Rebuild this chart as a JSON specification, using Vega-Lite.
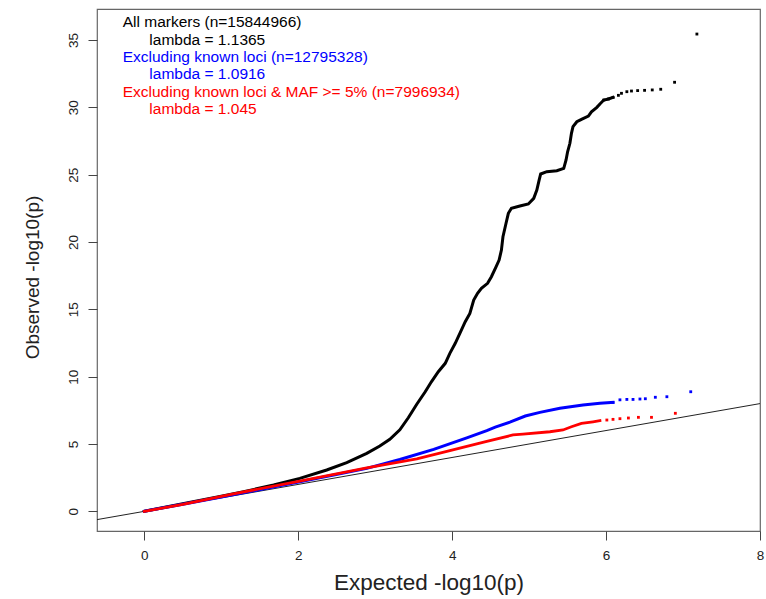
{
  "$schema": "https://vega.github.io/schema/vega-lite/v6.json",
  "width": 663,
  "height": 522,
  "autosize": "none",
  "padding": {"left": 97, "top": 9, "right": 6, "bottom": 68},
  "background": "white",
  "config": {
    "font": "Liberation Sans",
    "view": {"stroke": "#666666", "strokeWidth": 1.2},
    "axis": {"grid": false, "domain": false, "tickColor": "#444444", "tickWidth": 1, "tickSize": 9, "labelColor": "#222222", "titleColor": "#222222", "labelFontSize": 13.5, "titleFontWeight": "normal", "labelFlush": false, "labelOverlap": false}
  },
  "datasets": {
    "qq": [
      {"series": "all", "x": 0, "y": 0},
      {"series": "all", "x": 0.5, "y": 0.56},
      {"series": "all", "x": 1.0, "y": 1.13},
      {"series": "all", "x": 1.29, "y": 1.46},
      {"series": "all", "x": 1.68, "y": 1.95},
      {"series": "all", "x": 2.02, "y": 2.45},
      {"series": "all", "x": 2.37, "y": 3.07},
      {"series": "all", "x": 2.63, "y": 3.62},
      {"series": "all", "x": 2.89, "y": 4.30},
      {"series": "all", "x": 3.06, "y": 4.85},
      {"series": "all", "x": 3.19, "y": 5.35},
      {"series": "all", "x": 3.32, "y": 6.05},
      {"series": "all", "x": 3.43, "y": 6.95},
      {"series": "all", "x": 3.54, "y": 7.95},
      {"series": "all", "x": 3.65, "y": 8.88},
      {"series": "all", "x": 3.73, "y": 9.62},
      {"series": "all", "x": 3.82, "y": 10.37},
      {"series": "all", "x": 3.91, "y": 10.99},
      {"series": "all", "x": 3.97, "y": 11.73},
      {"series": "all", "x": 4.04, "y": 12.48},
      {"series": "all", "x": 4.10, "y": 13.22},
      {"series": "all", "x": 4.17, "y": 14.08},
      {"series": "all", "x": 4.23, "y": 14.70},
      {"series": "all", "x": 4.28, "y": 15.69},
      {"series": "all", "x": 4.33, "y": 16.19},
      {"series": "all", "x": 4.38, "y": 16.56},
      {"series": "all", "x": 4.46, "y": 16.93},
      {"series": "all", "x": 4.51, "y": 17.42},
      {"series": "all", "x": 4.57, "y": 18.16},
      {"series": "all", "x": 4.61, "y": 18.66},
      {"series": "all", "x": 4.64, "y": 19.40},
      {"series": "all", "x": 4.66, "y": 20.39},
      {"series": "all", "x": 4.70, "y": 21.39},
      {"series": "all", "x": 4.73, "y": 22.13},
      {"series": "all", "x": 4.77, "y": 22.50},
      {"series": "all", "x": 4.88, "y": 22.67},
      {"series": "all", "x": 4.99, "y": 22.82},
      {"series": "all", "x": 5.06, "y": 23.24},
      {"series": "all", "x": 5.10, "y": 23.86},
      {"series": "all", "x": 5.13, "y": 24.60},
      {"series": "all", "x": 5.15, "y": 25.05},
      {"series": "all", "x": 5.23, "y": 25.22},
      {"series": "all", "x": 5.36, "y": 25.29},
      {"series": "all", "x": 5.45, "y": 25.47},
      {"series": "all", "x": 5.48, "y": 26.09},
      {"series": "all", "x": 5.50, "y": 26.70},
      {"series": "all", "x": 5.53, "y": 27.33},
      {"series": "all", "x": 5.55, "y": 28.07},
      {"series": "all", "x": 5.57, "y": 28.56},
      {"series": "all", "x": 5.62, "y": 28.93},
      {"series": "all", "x": 5.68, "y": 29.11},
      {"series": "all", "x": 5.77, "y": 29.35},
      {"series": "all", "x": 5.81, "y": 29.67},
      {"series": "all", "x": 5.88, "y": 30.00},
      {"series": "all", "x": 5.92, "y": 30.25},
      {"series": "all", "x": 5.97, "y": 30.54},
      {"series": "all", "x": 6.03, "y": 30.62},
      {"series": "all", "x": 6.09, "y": 30.74},
      {"series": "all", "x": 6.16, "y": 30.89},
      {"series": "all", "x": 6.20, "y": 31.04},
      {"series": "all", "x": 6.27, "y": 31.16},
      {"series": "all", "x": 6.33, "y": 31.21},
      {"series": "all", "x": 6.41, "y": 31.24},
      {"series": "all", "x": 6.50, "y": 31.26},
      {"series": "all", "x": 6.60, "y": 31.29},
      {"series": "all", "x": 6.71, "y": 31.34},
      {"series": "all", "x": 6.89, "y": 31.86},
      {"series": "all", "x": 7.18, "y": 35.44},
      {"series": "excl", "x": 0, "y": 0},
      {"series": "excl", "x": 0.5, "y": 0.53},
      {"series": "excl", "x": 1.0, "y": 1.07},
      {"series": "excl", "x": 1.59, "y": 1.71},
      {"series": "excl", "x": 2.02, "y": 2.20},
      {"series": "excl", "x": 2.46, "y": 2.70},
      {"series": "excl", "x": 2.89, "y": 3.19},
      {"series": "excl", "x": 3.32, "y": 3.85},
      {"series": "excl", "x": 3.76, "y": 4.60},
      {"series": "excl", "x": 4.19, "y": 5.45},
      {"series": "excl", "x": 4.45, "y": 6.00},
      {"series": "excl", "x": 4.56, "y": 6.25},
      {"series": "excl", "x": 4.75, "y": 6.62},
      {"series": "excl", "x": 4.95, "y": 7.08},
      {"series": "excl", "x": 5.14, "y": 7.35},
      {"series": "excl", "x": 5.40, "y": 7.65},
      {"series": "excl", "x": 5.70, "y": 7.89},
      {"series": "excl", "x": 5.92, "y": 8.02},
      {"series": "excl", "x": 6.09, "y": 8.09},
      {"series": "excl", "x": 6.18, "y": 8.28},
      {"series": "excl", "x": 6.27, "y": 8.31},
      {"series": "excl", "x": 6.35, "y": 8.31},
      {"series": "excl", "x": 6.44, "y": 8.34},
      {"series": "excl", "x": 6.51, "y": 8.36},
      {"series": "excl", "x": 6.64, "y": 8.47},
      {"series": "excl", "x": 6.79, "y": 8.51},
      {"series": "excl", "x": 7.10, "y": 8.88},
      {"series": "maf", "x": 0, "y": 0},
      {"series": "maf", "x": 0.5, "y": 0.52},
      {"series": "maf", "x": 1.16, "y": 1.30},
      {"series": "maf", "x": 2.02, "y": 2.25},
      {"series": "maf", "x": 2.89, "y": 3.22},
      {"series": "maf", "x": 3.54, "y": 3.90},
      {"series": "maf", "x": 3.97, "y": 4.50},
      {"series": "maf", "x": 4.45, "y": 5.20},
      {"series": "maf", "x": 4.79, "y": 5.67},
      {"series": "maf", "x": 4.92, "y": 5.74},
      {"series": "maf", "x": 5.27, "y": 5.91},
      {"series": "maf", "x": 5.44, "y": 6.04},
      {"series": "maf", "x": 5.55, "y": 6.28},
      {"series": "maf", "x": 5.68, "y": 6.53},
      {"series": "maf", "x": 5.83, "y": 6.65},
      {"series": "maf", "x": 5.92, "y": 6.73},
      {"series": "maf", "x": 6.01, "y": 6.78},
      {"series": "maf", "x": 6.09, "y": 6.83},
      {"series": "maf", "x": 6.18, "y": 6.88},
      {"series": "maf", "x": 6.29, "y": 6.93},
      {"series": "maf", "x": 6.42, "y": 6.98},
      {"series": "maf", "x": 6.59, "y": 6.98},
      {"series": "maf", "x": 6.90, "y": 7.28}
    ],
    "ref": [
      {"x": -0.615, "y": -0.615},
      {"x": 8.0, "y": 8.0}
    ],
    "labels": [
      {"label": "All markers (n=15844966)", "series": "all", "x": -0.281, "y": 35.94},
      {"label": "lambda = 1.1365", "series": "all", "x": 0.065, "y": 34.63},
      {"label": "Excluding known loci (n=12795328)", "series": "excl", "x": -0.281, "y": 33.34},
      {"label": "lambda = 1.0916", "series": "excl", "x": 0.065, "y": 32.08},
      {"label": "Excluding known loci & MAF >= 5% (n=7996934)", "series": "maf", "x": -0.281, "y": 30.79},
      {"label": "lambda = 1.045", "series": "maf", "x": 0.065, "y": 29.50}
    ]
  },
  "encoding": {
    "x": {
      "field": "x", "type": "quantitative",
      "scale": {"domain": [-0.615, 8.0], "nice": false, "zero": false},
      "axis": {"values": [0, 2, 4, 6, 8], "labelPadding": 8, "title": "Expected -log10(p)", "titleFontSize": 22.5, "titleY": 58, "titleBaseline": "alphabetic"}
    },
    "y": {
      "field": "y", "type": "quantitative",
      "scale": {"domain": [-1.46, 37.3], "nice": false, "zero": false},
      "axis": {"values": [0, 5, 10, 15, 20, 25, 30, 35], "labelAngle": 270, "labelAlign": "center", "labelBaseline": "alphabetic", "labelPadding": 11, "title": "Observed -log10(p)", "titleFontSize": 19, "titleAngle": 270, "titleX": -59, "titleY": 268, "titleAlign": "center", "titleBaseline": "alphabetic"}
    }
  },
  "layer": [
    {
      "data": {"name": "ref"},
      "mark": {"type": "line", "color": "#222222", "strokeWidth": 1, "clip": true},
      "encoding": {}
    },
    {
      "data": {"name": "qq"},
      "transform": [{"filter": "datum.series == 'all' && datum.x <= 6.1"}],
      "mark": {"type": "line", "strokeWidth": 3, "strokeCap": "square"},
      "encoding": {"color": {"field": "series", "type": "nominal", "scale": {"domain": ["all", "excl", "maf"], "range": ["#000000", "#0000FF", "#FF0000"]}, "legend": null}}
    },
    {
      "data": {"name": "qq"},
      "transform": [{"filter": "datum.series == 'excl' && datum.x <= 6.1"}],
      "mark": {"type": "line", "strokeWidth": 3, "strokeCap": "square"},
      "encoding": {"color": {"field": "series", "type": "nominal", "scale": {"domain": ["all", "excl", "maf"], "range": ["#000000", "#0000FF", "#FF0000"]}, "legend": null}}
    },
    {
      "data": {"name": "qq"},
      "transform": [{"filter": "datum.series == 'maf' && datum.x <= 6.0"}],
      "mark": {"type": "line", "strokeWidth": 2.8, "strokeCap": "square"},
      "encoding": {"color": {"field": "series", "type": "nominal", "scale": {"domain": ["all", "excl", "maf"], "range": ["#000000", "#0000FF", "#FF0000"]}, "legend": null}}
    },
    {
      "data": {"name": "qq"},
      "transform": [{"filter": "datum.x > 5.95"}],
      "mark": {"type": "point", "shape": "square", "filled": true, "size": 8, "opacity": 1},
      "encoding": {"color": {"field": "series", "type": "nominal", "scale": {"domain": ["all", "excl", "maf"], "range": ["#000000", "#0000FF", "#FF0000"]}, "legend": null}}
    },
    {
      "data": {"name": "labels"},
      "mark": {"type": "text", "align": "left", "baseline": "alphabetic", "fontSize": 15.5, "font": "Liberation Sans"},
      "encoding": {
        "text": {"field": "label", "type": "nominal"},
        "color": {"field": "series", "type": "nominal", "scale": {"domain": ["all", "excl", "maf"], "range": ["#000000", "#0000FF", "#FF0000"]}, "legend": null}
      }
    }
  ]
}
